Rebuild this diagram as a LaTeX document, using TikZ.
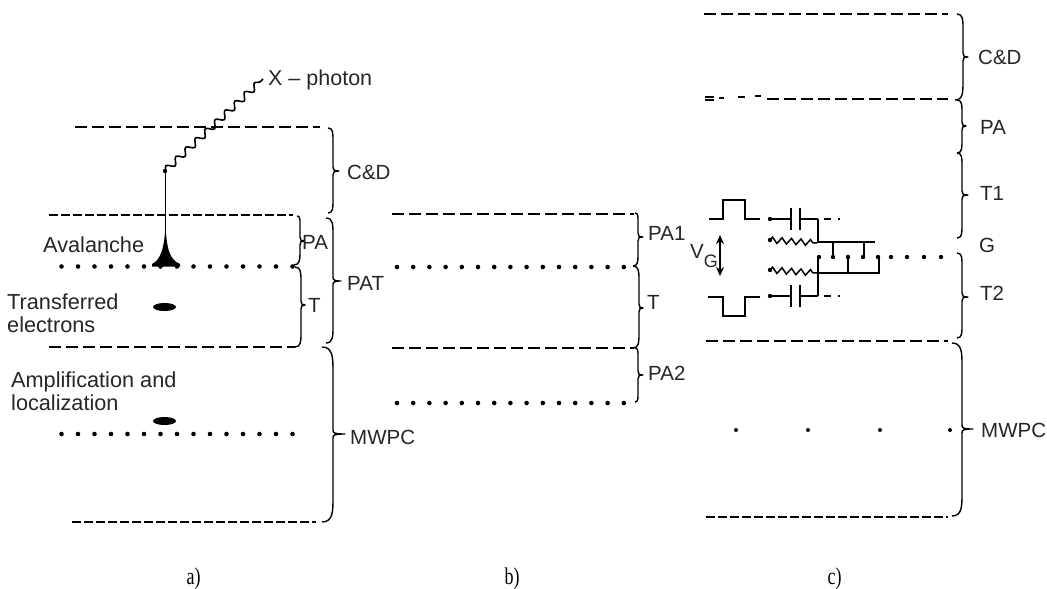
\documentclass[tikz,border=0pt]{standalone}
\usepackage{fontspec}
\setmainfont{Liberation Sans}
\newfontfamily\capfont{Liberation Serif}
\usetikzlibrary{decorations.pathreplacing,decorations.pathmorphing,arrows.meta,shapes.geometric}
\tikzset{
  lbl/.style={inner sep=0pt,anchor=west,font=\fontsize{20.5}{23.5}\selectfont,text=black!85},
  lblbig/.style={lbl,font=\fontsize{21.7}{23}\selectfont},
  multi/.style={lblbig,align=left},
  captxt/.style={inner sep=0pt,font=\capfont\fontsize{24}{26}\selectfont},
  dashline/.style={line width=1.4pt,dash pattern=on 11.5pt off 5.5pt},
  densedash/.style={line width=1.4pt,dash pattern=on 9pt off 3pt},
  bracestyle/.style={line width=1.4pt,line join=round},
  wire/.style={line width=1.2pt},
  ovalblob/.style={ellipse,fill=black,inner sep=0pt,minimum width=23pt,minimum height=8pt},
}
\newcommand{\dotrow}[4]{\foreach \i in {0,...,#4}{\fill ({#1+\i*(#2)},#3) circle (2.3pt);}}
% hook x top, hook x bottom, body x, tip x, y top, y tip, y bottom
\newcommand{\mybrace}[7]{\draw[bracestyle] (#1,#5) .. controls (#3,#5) and (#3,{#5+(#3-#1)}) .. (#3,{#5+2*(#3-#1)+2})
  -- (#3,{#6-4}) .. controls (#3,{#6-1}) and ({#3+1},#6) .. (#4,#6) .. controls ({#3+1},#6) and (#3,{#6+1}) .. (#3,{#6+4})
  -- (#3,{#7-2*(#3-#2)-2}) .. controls (#3,{#7-(#3-#2)}) and (#3,#7) .. (#2,#7);}
\begin{document}
\begin{tikzpicture}[x=1pt,y=-1pt]
\useasboundingbox[fill=white] (0,0) rectangle (1047,589);
% --- a ---
\draw[dashline] (75,127) -- (320,127);
\draw[densedash] (49,215) -- (293,215);
\draw[dashline] (49,347) -- (295,347);
\draw[densedash] (72,522) -- (316,522);
\dotrow{61.5}{16.5}{266.5}{14}
\dotrow{61.5}{16.5}{434}{14}
\mybrace{328}{328}{333}{339}{128}{171}{213}
\mybrace{297}{294}{300}{304}{216}{241}{265}
\mybrace{295}{295}{301}{305}{267}{305}{347}
\mybrace{326}{326}{333}{341}{218}{281}{343}
\mybrace{322}{322}{333}{345}{347}{434}{522}
\draw[line width=1.6pt,decorate,decoration={snake,segment length=13.5pt,amplitude=3.2pt}] (165,171) -- (263,79);
\fill (165,171) circle (2.2pt);
\draw[line width=1.6pt] (165.5,171) -- (165.5,232);
\fill (165.5,224) .. controls (166.5,250) and (170,260) .. (180,264) -- (180,266.5) -- (152,266.5) -- (152,264) .. controls (160,260) and (164.5,250) .. (165.5,224) -- cycle;
\node[ovalblob] (e1) at (164.5,307) {};
\node[ovalblob] (e2) at (164.5,421) {};
\node[lbl,font=\fontsize{21.5}{23}\selectfont] (xph) at (268,80) {X – photon};
\node[lblbig] (aval) at (43,245) {Avalanche};
\node[multi] (trans) at (7,313.5) {Transferred\\electrons};
\node[multi] (ampl) at (11,391.5) {Amplification and\\localization};
\node[lbl] (cd1) at (347,172) {C\&D};
\node[lbl] (pa1) at (302,242) {PA};
\node[lbl] (t1) at (308,305) {T};
\node[lbl] (pat) at (347,283) {PAT};
\node[lbl] (mw1) at (350,437) {MWPC};
% --- b ---
\draw[dashline] (392,214) -- (634,214);
\draw[dashline] (392,348) -- (634,348);
\dotrow{397}{16.2}{267}{14}
\dotrow{397}{16.2}{403}{14}
\mybrace{635}{633}{638}{643}{213}{237}{266}
\mybrace{633}{633}{639}{643}{266}{308}{348}
\mybrace{635}{635}{638}{643}{348}{375}{402}
\node[lbl] (pa1b) at (648,233) {PA1};
\node[lbl] (tb) at (647,302) {T};
\node[lbl] (pa2b) at (648,373) {PA2};
% --- c ---
\draw[dashline] (704,14) -- (948,14);
\draw[dashline] (767,99) -- (948,99);
\draw[line width=1.2pt] (705,97) -- (714,97) (705,100) -- (714,100) (719,98) -- (724,98) (738,97) -- (745,97) (755,96) -- (761,96);
\draw[dashline] (706,341) -- (948,341);
\draw[densedash] (706,517) -- (948,517);
\mybrace{957}{955}{963}{968}{14}{57}{100}
\mybrace{957}{957}{962}{966}{100}{126}{153}
\mybrace{957}{957}{962}{968}{153}{195}{238}
\mybrace{957}{957}{962}{968}{253}{297}{338}
\mybrace{952}{952}{962}{973}{343}{429}{516}
\node[lbl] (cd3) at (978,57) {C\&D};
\node[lbl] (pa3) at (980,127) {PA};
\node[lbl] (t31) at (980,193) {T1};
\node[lbl] (g3) at (979,245) {G};
\node[lbl] (t32) at (980,293) {T2};
\node[lbl] (mw3) at (981,430) {MWPC};
\foreach \x in {736,808,880,950}{\fill (\x,430) circle (2pt);}
\foreach \x in {819,833,848,863,878,891,907,924,941}{\fill (\x,257) circle (2.2pt);}
% pulses
\draw[wire] (709,219) -- (723,219) -- (723,200) -- (745,200) -- (745,219) -- (760,219);
\draw[wire] (708,297) -- (723,297) -- (723,316) -- (745,316) -- (745,297) -- (760,297);
\draw[line width=1.5pt,{Stealth[length=9pt,width=8pt]}-{Stealth[length=9pt,width=8pt]}] (720,235) -- (720,276);
\node[lbl,anchor=base west] (vg) at (690,258) {V\raisebox{-9pt}{\fontsize{18}{20}\selectfont G}};
% capacitors and resistors
\foreach \yy/\ytop/\ybot in {219/208/230,296/285/307}{
  \fill (770,\yy) circle (2.2pt);
  \draw[wire] (770,\yy) -- (791,\yy) (800,\yy) -- (818,\yy);
  \draw[line width=1.7pt] (791,\ytop) -- (791,\ybot) (800,\ytop) -- (800,\ybot);
  \draw[wire] (824,\yy) -- (831,\yy) (838,\yy) -- (840,\yy);
}
\fill (770,240) circle (2.2pt);
\fill (770,270) circle (2.2pt);
\draw[line width=1.5pt,decorate,decoration={zigzag,segment length=9.5pt,amplitude=3pt}] (770,240) -- (817,243);
\draw[line width=1.5pt,decorate,decoration={zigzag,segment length=9.5pt,amplitude=3pt}] (770,270) -- (817,273);
\draw[wire] (818,219) -- (818,242) -- (875,242);
\draw[wire] (833,242) -- (833,257) (864,242) -- (864,257);
\draw[wire] (818,257) -- (818,296);
\draw[wire] (817,273) -- (879,273) -- (879,257);
\draw[wire] (848,273) -- (848,257);
% captions
\node[captxt] (ca) at (193.5,579) {\scalebox{.75}[1]{a)}};
\node[captxt] (cb) at (512,579) {\scalebox{.75}[1]{b)}};
\node[captxt] (cc) at (834.5,579) {\scalebox{.75}[1]{c)}};
\end{tikzpicture}
\end{document}
